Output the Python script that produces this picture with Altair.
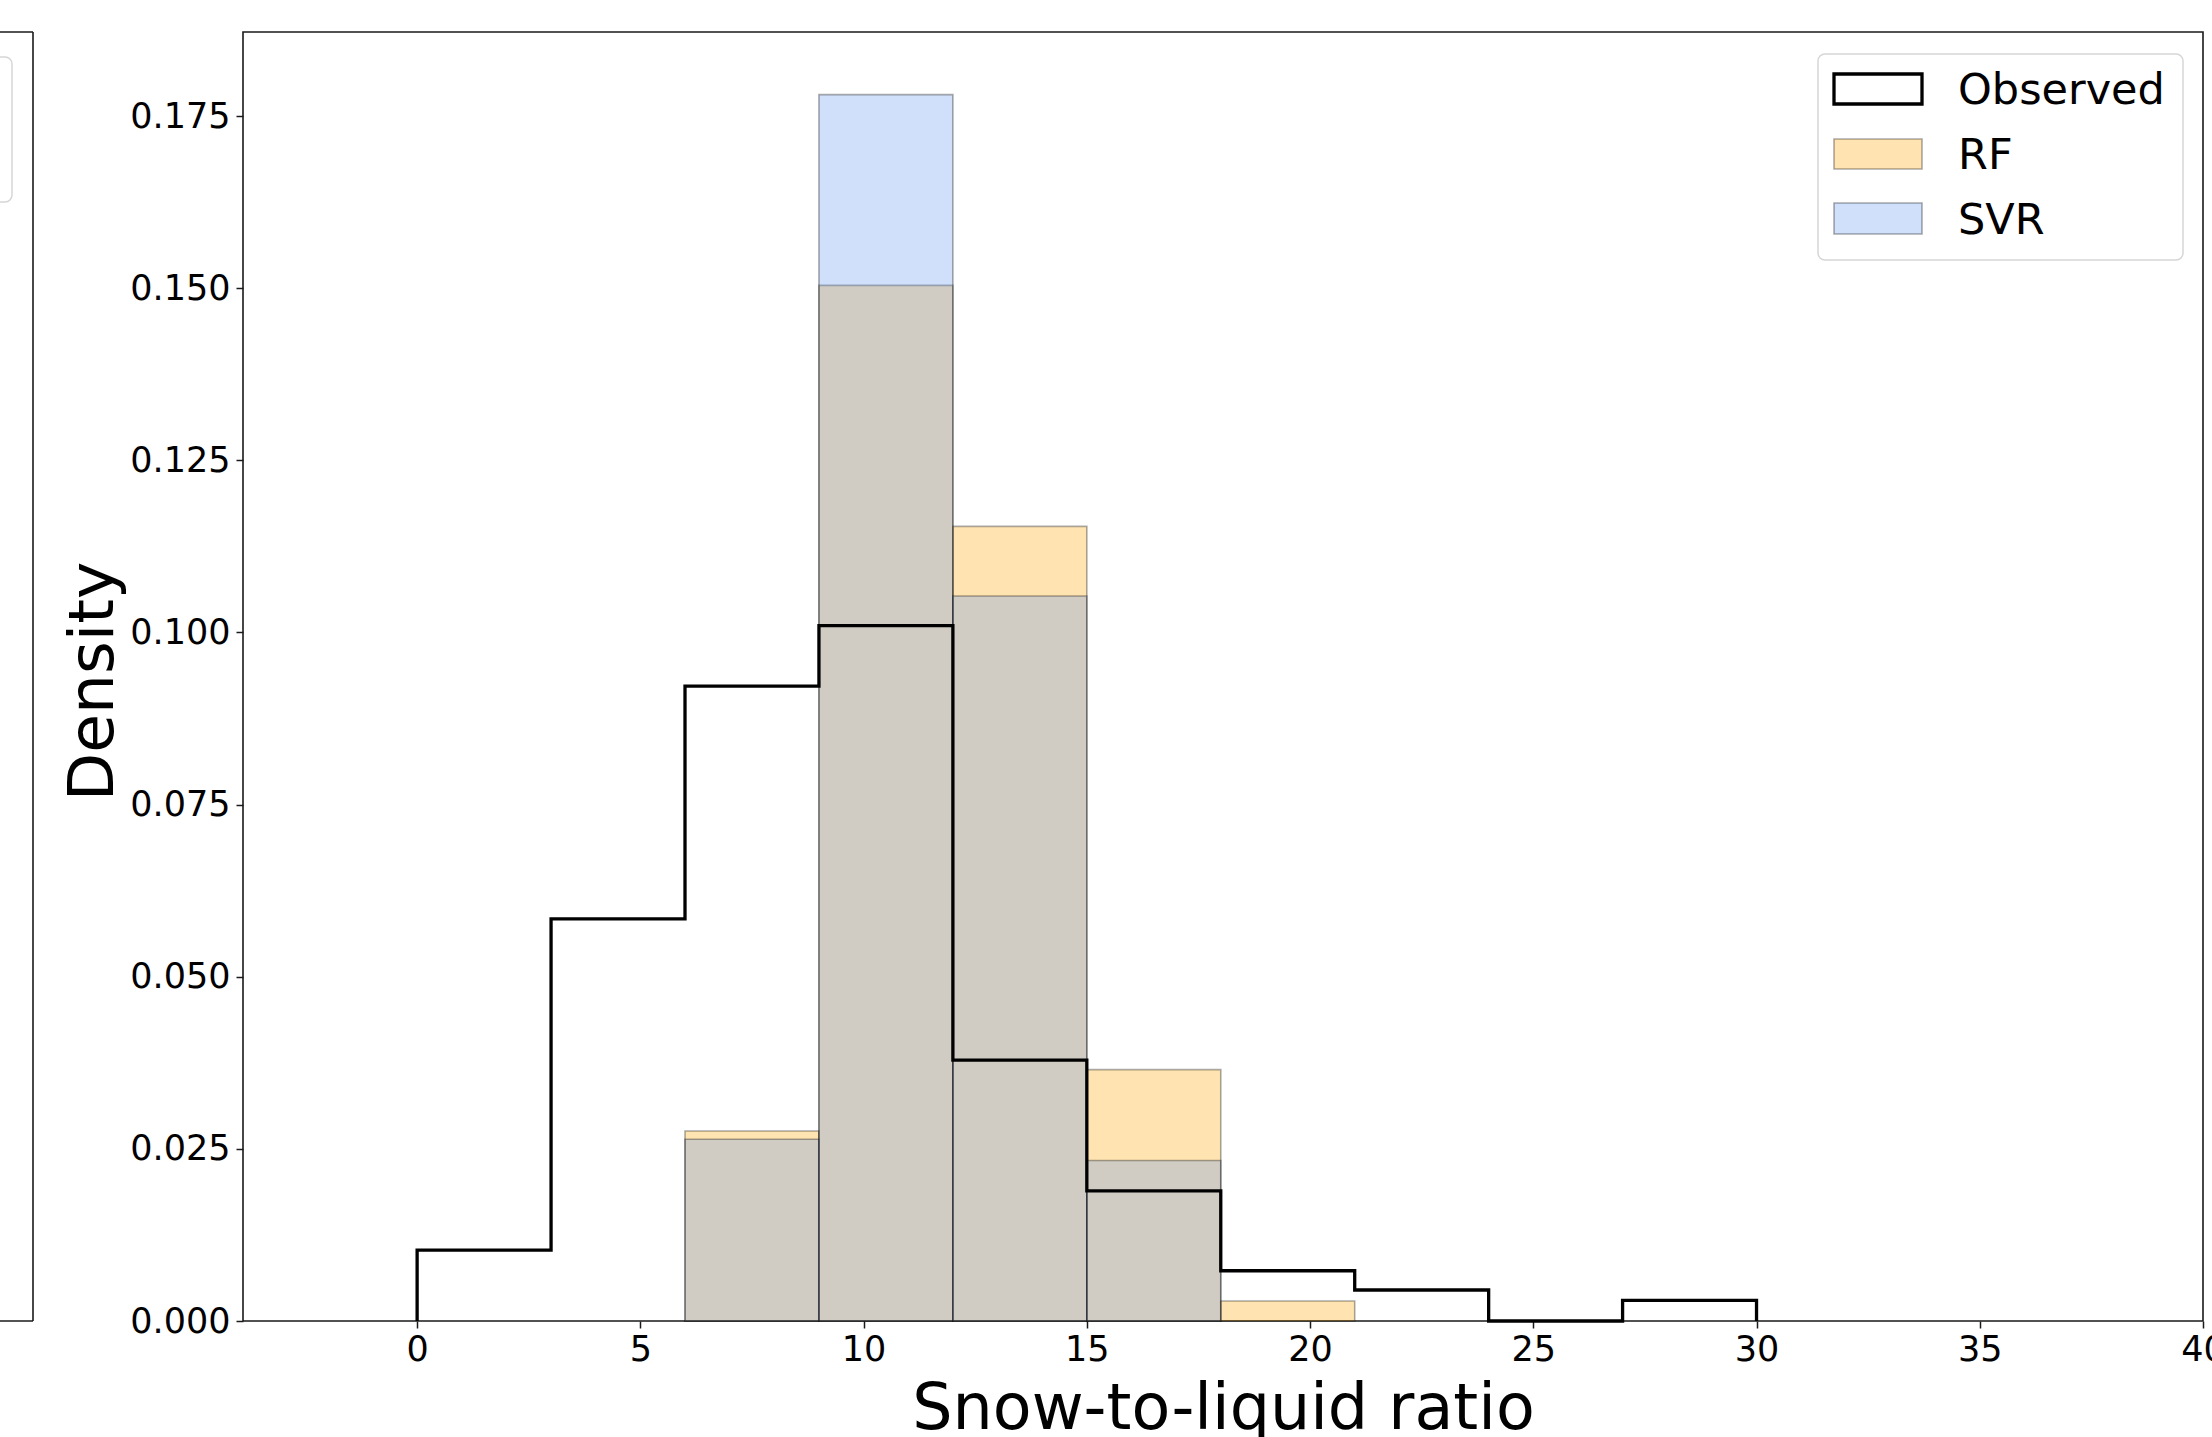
import altair as alt
import pandas as pd

# Histogram densities for snow-to-liquid ratio (bin width 3)
BIN_WIDTH = 3

obs_bin_starts = [0, 3, 6, 9, 12, 15, 18, 21, 24, 27]
obs_density = [0.0103, 0.0584, 0.0922, 0.1010, 0.0379, 0.0189, 0.0073, 0.0045, 0.0, 0.0030]

rf_bin_starts = [6, 9, 12, 15, 18]
rf_density = [0.0276, 0.1504, 0.1154, 0.0365, 0.0029]

svr_bin_starts = [6, 9, 12, 15]
svr_density = [0.0264, 0.1781, 0.1053, 0.0233]

x_ticks = [0, 5, 10, 15, 20, 25, 30, 35, 40]
y_ticks = [0.0, 0.025, 0.05, 0.075, 0.1, 0.125, 0.15, 0.175]

series_labels = ["Observed", "RF", "SVR"]

FONT = "DejaVu Sans"
W, H = 1960, 1289

RF_FILL = "rgba(255,165,0,0.3)"
SVR_FILL = "rgba(100,149,237,0.3)"
EDGE = "rgba(0,0,0,0.33)"


def bars_frame(starts, dens):
    return pd.DataFrame({
        "ratio": starts,
        "ratio_end": [s + BIN_WIDTH for s in starts],
        "density": dens,
    })


# Outline of the observed histogram as a step path
step_x = [obs_bin_starts[0]] + obs_bin_starts + [obs_bin_starts[-1] + BIN_WIDTH] * 2
step_y = [0.0] + obs_density + [obs_density[-1], 0.0]
step_df = pd.DataFrame({"ratio": step_x, "density": step_y, "order": list(range(len(step_x)))})

x_scale = alt.Scale(domain=[-3.9, 40], nice=False, zero=False)
y_scale = alt.Scale(domain=[0, 0.1872], nice=False, zero=True)

x_axis = alt.Axis(
    values=x_ticks, format="d", title="Snow-to-liquid ratio", labelFlush=False,
    titleFontSize=63.5, titleX=W / 2, titleY=107, titleAlign="center",
    titleBaseline="alphabetic", labelPadding=4,
)
y_axis = alt.Axis(
    values=y_ticks, format=".3f", title="Density",
    titleFontSize=63, titleX=-131, titleY=649, titleAngle=270,
    titleAlign="center", titleBaseline="alphabetic", labelPadding=6,
)

x_enc = alt.X("ratio:Q", scale=x_scale, axis=x_axis)
y_enc = alt.Y("density:Q", scale=y_scale, axis=y_axis)

rf_bars = alt.Chart(bars_frame(rf_bin_starts, rf_density)).mark_rect(
    fill=RF_FILL, stroke=EDGE, strokeWidth=1.6
).encode(x=x_enc, x2="ratio_end:Q", y=y_enc, y2=alt.datum(0))

svr_bars = alt.Chart(bars_frame(svr_bin_starts, svr_density)).mark_rect(
    fill=SVR_FILL, stroke=EDGE, strokeWidth=1.6
).encode(x=x_enc, x2="ratio_end:Q", y=y_enc, y2=alt.datum(0))

observed = alt.Chart(step_df).mark_line(
    color="black", strokeWidth=3.3, interpolate="step-after", strokeJoin="miter", strokeCap="butt"
).encode(x=x_enc, y=y_enc, order="order:Q")

one = pd.DataFrame({"k": [0]})

# Legend box
legend_box = alt.Chart(one).mark_rect(
    fill="white", stroke="#d6d6d6", strokeWidth=1.5, cornerRadius=7
).encode(x=alt.value(1575), x2=alt.value(1940), y=alt.value(22), y2=alt.value(228))

legend_obs = alt.Chart(one).mark_rect(fill="white", stroke="black", strokeWidth=3.3).encode(
    x=alt.value(1591), x2=alt.value(1679), y=alt.value(42), y2=alt.value(72))
legend_rf = alt.Chart(one).mark_rect(fill=RF_FILL, stroke=EDGE, strokeWidth=1.6).encode(
    x=alt.value(1591), x2=alt.value(1679), y=alt.value(107), y2=alt.value(137))
legend_svr = alt.Chart(one).mark_rect(fill=SVR_FILL, stroke=EDGE, strokeWidth=1.6).encode(
    x=alt.value(1591), x2=alt.value(1679), y=alt.value(171), y2=alt.value(202))

legend_texts = []
for label, base_y in zip(series_labels, [72, 137, 202]):
    legend_texts.append(
        alt.Chart(one).mark_text(
            font=FONT, fontSize=43, color="black", align="left", baseline="alphabetic"
        ).encode(x=alt.value(1715), y=alt.value(base_y), text=alt.value(label))
    )

# Edge of the neighbouring panel on the left
stub_side = alt.Chart(one).mark_rule(color="#1a1a1a", strokeWidth=1.6).encode(
    x=alt.value(-210), y=alt.value(0), y2=alt.value(H))
stub_top = alt.Chart(one).mark_rule(color="#1a1a1a", strokeWidth=1.6).encode(
    x=alt.value(-250), x2=alt.value(-210), y=alt.value(0))
stub_bottom = alt.Chart(one).mark_rule(color="#1a1a1a", strokeWidth=1.6).encode(
    x=alt.value(-250), x2=alt.value(-210), y=alt.value(H))
stub_legend = alt.Chart(one).mark_rect(
    fill="white", stroke="#d6d6d6", strokeWidth=1.5, cornerRadius=7
).encode(x=alt.value(-280), x2=alt.value(-231), y=alt.value(25), y2=alt.value(170))

chart = alt.layer(
    rf_bars, svr_bars, observed,
    legend_box, legend_obs, legend_rf, legend_svr, *legend_texts,
    stub_side, stub_top, stub_bottom, stub_legend,
).properties(
    width=W, height=H,
    autosize=alt.AutoSizeParams(type="none"),
    padding={"left": 243, "top": 32, "right": 9, "bottom": 116},
    background="white",
).configure_view(
    stroke="#1a1a1a", strokeWidth=1.6
).configure_axis(
    grid=False, domain=False,
    labelFont=FONT, labelFontSize=35, labelColor="black",
    titleFont=FONT, titleColor="black", titleFontWeight="normal",
    tickSize=7, tickColor="#1a1a1a", tickWidth=1.5,
)

chart.save("out.html", embed_options={"renderer": "svg", "actions": False})
